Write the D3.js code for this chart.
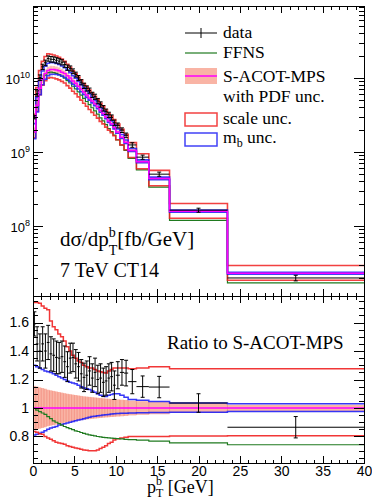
<!DOCTYPE html>
<html><head><meta charset="utf-8">
<script src="https://cdn.jsdelivr.net/npm/d3@7"></script>
<style>body{margin:0;background:#fff} svg{display:block} .serif{font-family:"Liberation Serif","Tinos","Nimbus Roman","DejaVu Serif",serif;white-space:pre}</style>
</head><body><svg id="c" width="372" height="499"></svg>
<script>
// ---------------- data ----------------
const binEdges = [0,0.333,0.667,1,1.333,1.667,2,2.333,2.667,3,3.333,3.667,4,4.333,4.667,5,5.333,5.667,6,6.333,6.667,7,7.333,7.667,8,8.333,8.667,9,9.333,9.667,10,10.5,11,11.5,12.5,14,16.5,23.5,40];
// S-ACOT-MPS central prediction [fb/GeV]
const central = [1.86e9,4.27e9,7.24e9,9.77e9,1.148e10,1.259e10,1.30e10,1.30e10,1.28e10,1.25e10,1.20e10,1.148e10,1.072e10,1.0e10,9.12e9,8.51e9,7.76e9,7.08e9,6.46e9,5.89e9,5.37e9,4.90e9,4.47e9,4.07e9,3.63e9,3.31e9,2.95e9,2.63e9,2.40e9,2.14e9,1.86e9,1.58e9,1.35e9,1.05e9,7.4e8,4.37e8,1.58e8,2.29e7];
// ratios to S-ACOT-MPS
const dataRatio = [1.59,1.45,1.40,1.45,1.40,1.46,1.38,1.37,1.355,1.35,1.36,1.325,1.29,1.35,1.355,1.31,1.29,1.24,1.215,1.23,1.26,1.21,1.25,1.20,1.21,1.18,1.19,1.21,1.22,1.16,1.23,1.25,1.245,1.185,1.15,1.147,1.035,0.865];
const dataErr = [0.085,0.12,0.12,0.12,0.12,0.12,0.12,0.115,0.115,0.11,0.11,0.11,0.105,0.105,0.10,0.10,0.10,0.10,0.10,0.10,0.10,0.10,0.10,0.10,0.10,0.10,0.10,0.10,0.10,0.10,0.095,0.09,0.09,0.085,0.075,0.075,0.065,0.075];
const ffnsRatio = [1.0,0.985,0.975,0.965,0.955,0.94,0.925,0.91,0.90,0.89,0.88,0.87,0.862,0.855,0.848,0.84,0.835,0.828,0.822,0.817,0.812,0.808,0.804,0.80,0.797,0.794,0.792,0.79,0.788,0.787,0.785,0.783,0.78,0.778,0.775,0.768,0.755,0.742];
const scaleUp = [1.74,1.74,1.735,1.716,1.70,1.69,1.61,1.57,1.55,1.52,1.50,1.47,1.43,1.40,1.37,1.35,1.33,1.32,1.30,1.29,1.28,1.28,1.27,1.26,1.255,1.25,1.245,1.26,1.27,1.28,1.28,1.28,1.28,1.275,1.28,1.29,1.275,1.275];
const scaleDn = [0.835,0.83,0.82,0.815,0.80,0.79,0.78,0.77,0.76,0.755,0.75,0.745,0.735,0.73,0.725,0.72,0.715,0.71,0.705,0.703,0.70,0.70,0.70,0.705,0.715,0.725,0.735,0.75,0.76,0.775,0.785,0.79,0.795,0.80,0.80,0.80,0.803,0.806];
const mbUp = [1.30,1.29,1.28,1.27,1.26,1.255,1.25,1.24,1.23,1.22,1.21,1.20,1.19,1.18,1.175,1.17,1.16,1.15,1.14,1.135,1.13,1.12,1.11,1.10,1.09,1.085,1.08,1.09,1.095,1.10,1.10,1.09,1.075,1.06,1.055,1.045,1.035,1.03];
const mbDn = [0.81,0.815,0.822,0.83,0.84,0.85,0.86,0.865,0.87,0.88,0.885,0.89,0.895,0.90,0.905,0.91,0.915,0.92,0.925,0.93,0.935,0.94,0.942,0.945,0.948,0.95,0.952,0.955,0.958,0.96,0.962,0.963,0.963,0.965,0.967,0.968,0.97,0.975];
const pdfUp = [1.155,1.15,1.145,1.14,1.135,1.128,1.124,1.12,1.116,1.112,1.108,1.104,1.10,1.097,1.094,1.091,1.088,1.085,1.082,1.08,1.078,1.076,1.074,1.072,1.07,1.068,1.066,1.065,1.063,1.062,1.06,1.058,1.056,1.052,1.048,1.044,1.035,1.022];
const pdfDn = [0.845,0.85,0.855,0.86,0.865,0.872,0.876,0.88,0.884,0.888,0.892,0.896,0.90,0.903,0.906,0.909,0.912,0.915,0.918,0.92,0.922,0.924,0.926,0.928,0.93,0.932,0.934,0.935,0.937,0.938,0.94,0.942,0.944,0.948,0.952,0.956,0.965,0.978];
const xMajorTicks = [0,5,10,15,20,25,30,35,40];
const ratioMajorTicks = [0.8,1,1.2,1.4,1.6];
const logMajorTicks = [1e8,1e9,1e10];

// ---------------- layout ----------------
const X0=33, X1=364, T0=6, T1=296, B1=463;
const svg = d3.select('#c');
const SANS = "'Liberation Sans', Arial, sans-serif";
const COL = {red:'#f02020', blue:'#2020f5', green:'#1f7a1f', mag:'#ff00ff', band:'#f9b4a5', bandEdge:'#f2897a'};

const x = d3.scaleLinear().domain([0,40]).range([X0,X1]);
const yTop = d3.scaleLog().domain([1.13e7,9.4e10]).range([T1,T0]);
const yRat = d3.scaleLinear().domain([0.614,1.786]).range([B1,T1]);

const defs = svg.append('defs');
defs.append('clipPath').attr('id','clipT').append('rect').attr('x',X0).attr('y',T0).attr('width',X1-X0).attr('height',T1-T0);
defs.append('clipPath').attr('id','clipB').append('rect').attr('x',X0).attr('y',T1).attr('width',X1-X0).attr('height',B1-T1);

const nb = central.length;
const bins = d3.range(nb).map(i=>({lo:binEdges[i], hi:binEdges[i+1], c:central[i], i}));

function stepPath(vals){
  const pts=[];
  vals.forEach((v,i)=>{pts.push([binEdges[i],v]);pts.push([binEdges[i+1],v]);});
  return pts;
}

// ---------- top panel ----------
const gT = svg.append('g').attr('clip-path','url(#clipT)');
const abs = arr => arr.map((r,i)=>r*central[i]);
const lineT = d3.line().x(d=>x(d[0])).y(d=>yTop(d[1]));

gT.selectAll('rect.pdf').data(bins).join('rect')
  .attr('x',d=>x(d.lo)).attr('width',d=>x(d.hi)-x(d.lo))
  .attr('y',d=>yTop(pdfUp[d.i]*d.c)).attr('height',d=>yTop(pdfDn[d.i]*d.c)-yTop(pdfUp[d.i]*d.c))
  .attr('fill',COL.band).attr('opacity',0.85);

function drawSteps(g, line, arr, color, w, op){
  g.append('path').attr('d',line(stepPath(arr))).attr('fill','none')
   .attr('stroke',color).attr('stroke-width',w).attr('stroke-opacity',op||1);
}
drawSteps(gT,lineT,abs(ffnsRatio),COL.green,1.2);
drawSteps(gT,lineT,abs(scaleUp),COL.red,1.6,0.85);
drawSteps(gT,lineT,abs(scaleDn),COL.red,1.6,0.85);
drawSteps(gT,lineT,abs(mbUp),COL.blue,1.6,0.85);
drawSteps(gT,lineT,abs(mbDn),COL.blue,1.6,0.85);
drawSteps(gT,lineT,central,COL.mag,1.5);

function drawData(g, yS, vals, errs){
  const dg = g.append('g').attr('stroke','#000').attr('stroke-width',1);
  bins.forEach(d=>{
    const xc = x((d.lo+d.hi)/2), v=vals[d.i], e=errs[d.i];
    const yc=yS(v), yh=yS(v+e), yl=yS(v-e);
    dg.append('line').attr('x1',x(d.lo)).attr('x2',x(d.hi)).attr('y1',yc).attr('y2',yc);
    dg.append('line').attr('x1',xc).attr('x2',xc).attr('y1',yh).attr('y2',yl);
    dg.append('line').attr('x1',xc-2).attr('x2',xc+2).attr('y1',yh).attr('y2',yh);
    dg.append('line').attr('x1',xc-2).attr('x2',xc+2).attr('y1',yl).attr('y2',yl);
  });
}
drawData(gT, yTop, abs(dataRatio), dataErr.map((e,i)=>e*central[i]));

// ---------- bottom panel ----------
const gB = svg.append('g').attr('clip-path','url(#clipB)');
const lineB = d3.line().x(d=>x(d[0])).y(d=>yRat(d[1]));
gB.selectAll('rect.pdf').data(bins).join('rect')
  .attr('x',d=>x(d.lo)).attr('width',d=>x(d.hi)-x(d.lo))
  .attr('y',d=>yRat(pdfUp[d.i])).attr('height',d=>yRat(pdfDn[d.i])-yRat(pdfUp[d.i]))
  .attr('fill',COL.band);
gB.selectAll('line.edge').data(bins.slice(1)).join('line')
  .attr('x1',d=>x(d.lo)).attr('x2',d=>x(d.lo))
  .attr('y1',d=>yRat(Math.min(pdfUp[d.i],pdfUp[d.i-1])))
  .attr('y2',d=>yRat(Math.max(pdfDn[d.i],pdfDn[d.i-1])))
  .attr('stroke',COL.bandEdge).attr('stroke-width',0.8);
drawSteps(gB,lineB,mbUp,COL.blue,1.5,0.9);
drawSteps(gB,lineB,mbDn,COL.blue,1.5,0.9);
drawSteps(gB,lineB,scaleUp,COL.red,1.5,0.9);
drawSteps(gB,lineB,scaleDn,COL.red,1.5,0.9);
drawSteps(gB,lineB,ffnsRatio,COL.green,1.2);
drawSteps(gB,lineB,central.map(()=>1),COL.mag,1.5);
drawData(gB, yRat, dataRatio, dataErr);

// ---------- axes ----------
const ax = svg.append('g').attr('shape-rendering','crispEdges');
function axisG(axis, tx, ty){
  const g = ax.append('g').attr('transform',`translate(${tx},${ty})`).call(axis);
  g.select('.domain').remove();
  g.selectAll('line').attr('stroke','#000');
  return g;
}
const xMinor = d3.range(0,41).filter(v=>v%5!==0);
const logMinor = [];
[7,8,9,10].forEach(d=>{for(let k=2;k<=9;k++){const v=k*Math.pow(10,d); if(v>=1.13e7&&v<=9.4e10) logMinor.push(v);}});
const ratMinor = d3.range(13,36).map(k=>k*0.05).filter(v=>Math.abs(v*5-Math.round(v*5))>1e-6);

axisG(d3.axisTop(x).tickValues(xMajorTicks).tickSizeInner(-7).tickSizeOuter(0).tickFormat(''),0,T0);
axisG(d3.axisTop(x).tickValues(xMinor).tickSizeInner(-3.5).tickSizeOuter(0).tickFormat(''),0,T0);
axisG(d3.axisBottom(x).tickValues(xMajorTicks).tickSizeInner(-7).tickSizeOuter(0).tickFormat(''),0,T1);
axisG(d3.axisBottom(x).tickValues(xMinor).tickSizeInner(-3.5).tickSizeOuter(0).tickFormat(''),0,T1);
axisG(d3.axisLeft(yTop).tickValues(logMajorTicks).tickSizeInner(-10).tickSizeOuter(0).tickFormat(''),X0,0);
axisG(d3.axisLeft(yTop).tickValues(logMinor).tickSizeInner(-5).tickSizeOuter(0).tickFormat(''),X0,0);
axisG(d3.axisRight(yTop).tickValues(logMajorTicks).tickSizeInner(-10).tickSizeOuter(0).tickFormat(''),X1,0);
axisG(d3.axisRight(yTop).tickValues(logMinor).tickSizeInner(-5).tickSizeOuter(0).tickFormat(''),X1,0);
const logLab = svg.append('g').attr('font-family',SANS).attr('fill','#000');
logMajorTicks.forEach(v=>{
  const t = logLab.append('text').attr('x',X0-3).attr('y',yTop(v)+6).attr('text-anchor','end').attr('font-size',13);
  t.append('tspan').text('10');
  t.append('tspan').attr('font-size',9).attr('dy',-6).text(String(Math.round(Math.log10(v))));
});
axisG(d3.axisTop(x).tickValues(xMajorTicks).tickSizeInner(-7).tickSizeOuter(0).tickFormat(''),0,T1);
axisG(d3.axisTop(x).tickValues(xMinor).tickSizeInner(-3.5).tickSizeOuter(0).tickFormat(''),0,T1);
const xb = axisG(d3.axisBottom(x).tickValues(xMajorTicks).tickSizeInner(-7).tickSizeOuter(0).tickPadding(3).tickFormat(d3.format('d')),0,B1);
axisG(d3.axisBottom(x).tickValues(xMinor).tickSizeInner(-3.5).tickSizeOuter(0).tickFormat(''),0,B1);
xb.selectAll('text').attr('font-family',SANS).attr('font-size',14).attr('fill','#000');
const yb = axisG(d3.axisLeft(yRat).tickValues(ratioMajorTicks).tickSizeInner(-10).tickSizeOuter(0).tickPadding(4).tickFormat(d=>String(+d.toFixed(1))),X0,0);
yb.selectAll('text').attr('font-family',SANS).attr('font-size',14).attr('fill','#000');
axisG(d3.axisLeft(yRat).tickValues(ratMinor).tickSizeInner(-5).tickSizeOuter(0).tickFormat(''),X0,0);
axisG(d3.axisRight(yRat).tickValues(ratioMajorTicks).tickSizeInner(-10).tickSizeOuter(0).tickFormat(''),X1,0);
axisG(d3.axisRight(yRat).tickValues(ratMinor).tickSizeInner(-5).tickSizeOuter(0).tickFormat(''),X1,0);

ax.append('rect').attr('x',X0).attr('y',T0).attr('width',X1-X0).attr('height',B1-T0).attr('fill','none').attr('stroke','#000');
ax.append('line').attr('x1',X0).attr('x2',X1).attr('y1',T1).attr('y2',T1).attr('stroke','#000');

// ---------- text helper ----------
function seq(g, x0, base, pieces){
  let cx=x0, prevX=x0;
  pieces.forEach(p=>{
    const sx = p.stack ? prevX : cx;
    const el = g.append('text').attr('class','serif').attr('x',sx).attr('y',base+(p.dy||0))
      .attr('xml:space','preserve').style('font-size',p.size+'px').attr('fill','#000').text(p.t);
    const w = el.node().getComputedTextLength();
    if(p.stack){cx=Math.max(cx,sx+w);} else {prevX=sx; cx=sx+w;}
  });
}
const tg = svg.append('g');
seq(tg,60,246,[{t:'dσ/dp',size:21},{t:'T',size:14,dy:9},{t:'b',size:14,dy:-9,stack:true},{t:'[fb/GeV]',size:21}]);
seq(tg,60,277,[{t:'7 TeV CT14',size:20}]);
seq(tg,167,349,[{t:'Ratio to S-ACOT-MPS',size:19}]);
seq(tg,147,493,[{t:'p',size:18},{t:'T',size:12,dy:4},{t:'b',size:12,dy:-8,stack:true},{t:' [GeV]',size:18}]);

// ---------- legend ----------
const lg = svg.append('g');
const LX0=185, LX1=217, TX=223;
lg.append('line').attr('x1',LX0).attr('x2',LX1).attr('y1',33).attr('y2',33).attr('stroke','#000');
lg.append('line').attr('x1',201).attr('x2',201).attr('y1',28).attr('y2',38).attr('stroke','#000');
seq(lg,TX,38,[{t:'data',size:17.5}]);
lg.append('line').attr('x1',LX0).attr('x2',LX1).attr('y1',53).attr('y2',53).attr('stroke',COL.green).attr('stroke-width',1.2);
seq(lg,TX,58,[{t:'FFNS',size:17.5}]);
lg.append('rect').attr('x',LX0).attr('y',68).attr('width',LX1-LX0).attr('height',16).attr('fill',COL.band);
lg.append('line').attr('x1',LX0).attr('x2',LX1).attr('y1',76).attr('y2',76).attr('stroke',COL.mag).attr('stroke-width',1.5);
seq(lg,TX,82,[{t:'S-ACOT-MPS',size:17.5}]);
seq(lg,TX,102,[{t:'with PDF unc.',size:17.5}]);
lg.append('rect').attr('x',LX0).attr('y',113).attr('width',LX1-LX0).attr('height',13).attr('fill','none').attr('stroke',COL.red).attr('stroke-width',1.5).attr('stroke-opacity',0.85);
seq(lg,TX,124,[{t:'scale unc.',size:17.5}]);
lg.append('rect').attr('x',LX0).attr('y',133).attr('width',LX1-LX0).attr('height',13).attr('fill','none').attr('stroke',COL.blue).attr('stroke-width',1.5).attr('stroke-opacity',0.85);
seq(lg,TX,143,[{t:'m',size:17.5},{t:'b',size:12,dy:4},{t:' unc.',size:17.5}]);
</script></body></html>
